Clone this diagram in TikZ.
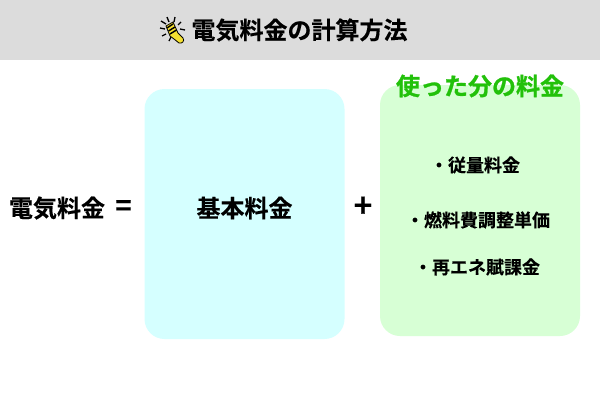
\documentclass[tikz,border=0pt]{standalone}
\usepackage{fontspec}
\setmainfont{Noto Sans CJK JP}
\newfontfamily\jpb[FakeBold=0.25]{Noto Sans CJK JP Bold}
\newfontfamily\jpg[FakeBold=1]{Noto Sans CJK JP Bold}
\definecolor{hdr}{HTML}{DCDCDC}
\definecolor{cy}{HTML}{D5FFFF}
\definecolor{gr}{HTML}{D7FFD5}
\definecolor{grt}{HTML}{22C10A}
\definecolor{bulb}{HTML}{F5E030}
\tikzset{
  px/.style={x=0.75pt,y=-0.75pt},
  lab/.style={font=\jpb,inner sep=0pt,anchor=center,text=black},
  big/.style={lab,font=\jpb\fontsize{18pt}{20pt}\selectfont},
  small/.style={lab,font=\jpb\fontsize{13.5pt}{16pt}\selectfont},
  panel/.style={rounded corners=15pt,draw=none}
}
\begin{document}
\begin{tikzpicture}[px]
\useasboundingbox (0,0) rectangle (600,400);
\fill[white] (0,0) rectangle (600,400);
\fill[hdr] (0,0) rectangle (600,60);
\fill[cy,panel] (144.5,89) rectangle (344.5,339);
\fill[gr,panel] (380,85) rectangle (580,336);
% bulb icon
\draw[black,line width=1pt]
  (160,28)--(165,29) (161,21)--(166,24) (167,17)--(169,22) (175,17)--(174,22)
  (181,22)--(178,25) (185,30)--(180,29) (162,36)--(166,34) (169,41)--(171,37);
\fill[bulb,draw=black,line width=.6pt]
  (166,26) -- (173,22) -- (178,33) -- (183,38) .. controls (185,41) and (182,44) .. (179,43)
  -- (174,39) -- (170,36) -- cycle;
\draw[black,line width=1.1pt] (167,28)--(173,24) (168.5,31)--(175,27) (170,34)--(176.5,30);
\node[lab,font=\jpb\fontsize{18pt}{20pt}\selectfont] (title) at (299.5,30) {電気料金の計算方法};
\node[big] (total) at (57,208) {電気料金};
\node[lab,font=\jpb\fontsize{21pt}{23pt}\selectfont] (eq) at (123.5,208) {=};
\node[big] (base) at (244.5,208) {基本料金};
\node[lab,font=\jpb\fontsize{24pt}{26pt}\selectfont] (plus) at (363,207) {+};
\node[lab,font=\jpg\fontsize{18pt}{20pt}\selectfont,text=grt] (used) at (480,86) {使った分の料金};
\node[small] (a) at (475,165) {・従量料金};
\node[small] (b) at (478,220) {・燃料費調整単価};
\node[small] (c) at (477,267) {・再エネ賦課金};
\end{tikzpicture}
\end{document}
